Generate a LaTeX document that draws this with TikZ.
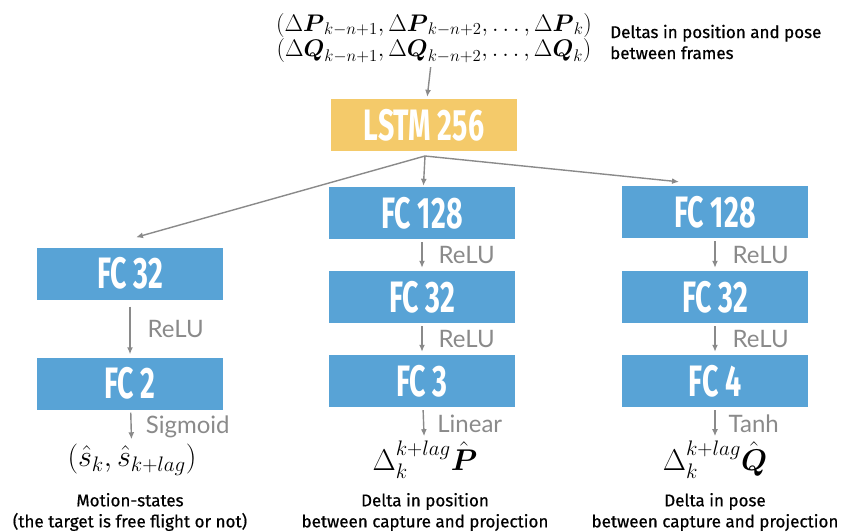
\RequirePackage{fix-cm}
\documentclass[tikz,border=0pt]{standalone}
\usepackage{amsmath}
\usepackage{fontspec}
\usepackage{tikz}
\usetikzlibrary{calc,positioning,arrows.meta}
\newfontfamily\boxfont[FakeStretch=0.65]{Fira Sans}
\newfontfamily\actfont{Lato}
\newfontfamily\capfont[FakeBold=0.6]{Fira Sans}
\definecolor{fcblue}{HTML}{58A3D6}
\definecolor{lstmyellow}{HTML}{F4CA6A}
\definecolor{wire}{HTML}{8A8A8A}
\tikzset{
  layer/.style={fill=fcblue,text=white,minimum width=186pt,minimum height=52pt,inner sep=0pt,font=\boxfont\bfseries\fontsize{44}{44}\selectfont},
  flow/.style={-{Latex[length=7pt,width=6pt]},wire,line width=1.4pt},
  act/.style={text=wire,font=\actfont\fontsize{24}{24}\selectfont,inner sep=0pt},
  outp/.style={font=\fontsize{30}{30}\selectfont,inner sep=0pt,align=center},
  capt/.style={font=\capfont\fontsize{17}{21}\selectfont,inner sep=0pt,align=center},
}

\begin{document}
\begin{tikzpicture}[x=1pt,y=-1pt]
\useasboundingbox (0,0) rectangle (843,531);
\node[outp,font=\fontsize{24}{25}\selectfont] (inp) at (434,38)
  {$(\Delta\boldsymbol{P}_{k-n+1},\Delta\boldsymbol{P}_{k-n+2},\ldots,\Delta\boldsymbol{P}_k)$\\
   $(\Delta\boldsymbol{Q}_{k-n+1},\Delta\boldsymbol{Q}_{k-n+2},\ldots,\Delta\boldsymbol{Q}_k)$};
\node[capt,align=left,anchor=west] (inptxt) at (610,42) {Deltas in position and pose\\between frames};
\node[layer,fill=lstmyellow] (lstm) at (424,125) {LSTM 256};
\coordinate (br) at (425,156);

\node[layer] (l1) at (130,273.5) {FC 32};
\node[layer] (l2) at (130,383.5) {FC 2};
\node[outp] (lout) at (132,460) {$(\hat{s}_k,\hat{s}_{k+lag})$};
\node[capt] (lcap) at (130,512) {Motion-states\\(the target is free flight or not)};

\node[layer] (m1) at (422,213) {FC 128};
\node[layer] (m2) at (422,297) {FC 32};
\node[layer] (m3) at (422,381) {FC 3};
\node[outp] (mout) at (425,460) {$\Delta_k^{k+lag}\hat{\boldsymbol{P}}$};
\node[capt] (mcap) at (425,512) {Delta in position\\between capture and projection};

\node[layer] (r1) at (715,212) {FC 128};
\node[layer] (r2) at (715,297) {FC 32};
\node[layer] (r3) at (715,381) {FC 4};
\node[outp] (rout) at (715,460) {$\Delta_k^{k+lag}\hat{\boldsymbol{Q}}$};
\node[capt] (rcap) at (715,512) {Delta in pose\\between capture and projection};

\draw[flow,shorten <=4pt,shorten >=2pt] (inp) -- (lstm);
\draw[flow] (br) -- ([xshift=6pt,yshift=10pt]l1.north);
\draw[flow,shorten >=1pt] (br) -- (m1);
\draw[flow] (br) -- ([xshift=-36pt,yshift=4pt]r1.north);

\draw[flow,shorten <=7pt,shorten >=3pt] (l1) -- node[act,right=17pt] {ReLU} (l2);
\draw[flow,shorten <=3pt,shorten >=5pt] (l2) -- node[act,right=14pt] {Sigmoid} (lout);
\draw[flow,shorten <=3pt,shorten >=3pt] (m1) -- node[act,right=16pt] {ReLU} (m2);
\draw[flow,shorten <=3pt,shorten >=3pt] (m2) -- node[act,right=16pt] {ReLU} (m3);
\draw[flow,shorten <=3pt,shorten >=5pt] (m3) -- node[act,right=13pt] {Linear} (mout);
\draw[flow,shorten <=3pt,shorten >=3pt] (r1) -- node[act,right=17pt] {ReLU} (r2);
\draw[flow,shorten <=3pt,shorten >=3pt] (r2) -- node[act,right=17pt] {ReLU} (r3);
\draw[flow,shorten <=3pt,shorten >=5pt] (r3) -- node[act,right=13pt] {Tanh} (rout);
\end{tikzpicture}
\end{document}
